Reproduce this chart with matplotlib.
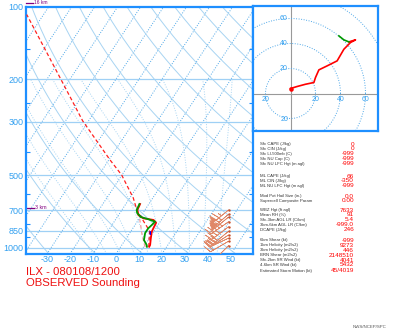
import numpy as np
import matplotlib.pyplot as plt
from matplotlib.ticker import NullFormatter

plt.rcParams['font.family'] = ['Liberation Sans', 'DejaVu Sans']

P_BOT = 1060.0
P_TOP = 100.0
SKEW = 30.0

# observed sounding, pressure (hPa) and temperature / dewpoint (C)
temp_pres = [989, 973, 913, 857, 817, 786, 766, 754, 731, 696, 671, 658]
temp_c = [12.4, 12.3, 10.7, 9.2, 8.8, 8.5, 6.6, 1.7, -1.4, -3.3, -3.6, -3.8]
dwpt_pres = [989, 973, 928, 868, 830, 804, 779, 761, 745, 717, 696, 671, 658]
dwpt_c = [11.4, 10.8, 8.2, 6.7, 6.7, 7.3, 7.8, 4.2, 0.3, -2.5, -3.6, -3.9, -4.1]

# surface parcel trace
parcel_pres = [989, 850, 703, 621, 499, 432, 298, 200, 108]
parcel_c = [12.2, 8.0, -3.1, -8.5, -20.1, -29.5, -52.5, -74.0, -107.3]

# virtual temp / wetbulb bits near the ground
vtemp_pres = [992, 884, 827, 731, 664]
vtemp_c = [10.7, 5.9, 3.5, -1.1, -5.3]
wb_pres = [878, 858]
wb_c = [9.3, 8.6]

# wind barbs (kt)
wind_pres = [978, 938, 911, 884, 853, 817, 779, 745, 725, 696]
wind_u = [6, 12, 19, 20, 23, 29, 37, 43, 48, 52]
wind_v = [6, 7, 9, 13, 19, 22, 26, 35, 41, 43]

# hodograph (kt)
hodo_u = [0, 5.3, 12, 18.7, 20, 22.7, 29.3, 37.3, 42.7, 48, 52, 46.7]
hodo_v = [4, 5.6, 7.4, 8.8, 12.8, 18.9, 22.1, 26.1, 35.4, 40.8, 42.9, 41.3]
hodo_top_u = [46.7, 42.7, 38.7]
hodo_top_v = [41.3, 42.9, 46.1]

pres_labels = [100, 200, 300, 500, 700, 850, 1000]
pres_minor = [150, 250, 400, 600, 800, 900]
temp_ticks = [-30, -20, -10, 0, 10, 20, 30, 40, 50]
hodo_rings = [20, 40, 60, 80]

param_groups = [
    [("Sfc CAPE (J/kg)", "0"), ("Sfc CIN (J/kg)", "0"),
     ("Sfc LI-500mb (C)", "-999"), ("Sfc NU Cap (C)", "-999"),
     ("Sfc NU LFC Hgt (m agl)", "-999")],
    [("ML CAPE (J/kg)", "66"), ("ML CIN (J/kg)", "-350"),
     ("ML NU LFC Hgt (m agl)", "-999")],
    [("Mod Pot Hail Size (in.)", "0.0"), ("Supercell Composite Param", "0.00")],
    [("WBZ Hgt (ft agl)", "7633"), ("Mean RH (%)", "91"),
     ("Sfc-3km AGL LR (C/km)", "5.4"), ("3km-6km AGL LR (C/km)", "-999.0"),
     ("DCAPE (J/kg)", "246")],
    [("6km Shear (kt)", "-999"), ("1km Helicity (m2/s2)", "9273"),
     ("3km Helicity (m2/s2)", "446"), ("BRN Shear (m2/s2)", "2148510"),
     ("Sfc-2km SR Wind (kt)", "4041"), ("4-6km SR Wind (kt)", "5432")],
    [("Estimated Storm Motion (kt)", "45/4019")],
]

BLUE = '#1e8fff'
GRID_DARK = '#4fa8e8'
GRID_LIGHT = '#a8d4f2'
W, H = 400, 329


def fx(px):
    return px / W


def fy(py):
    return 1 - py / H


def skew(t, p):
    return np.asarray(t, float) + SKEW * np.log(P_BOT / np.asarray(p, float))


def moist_adiabat(t0, pres):
    # simple step integration of the saturated lapse rate
    out = [t0]
    for p0, p1 in zip(pres[:-1], pres[1:]):
        tk = out[-1] + 273.15
        es = 6.112 * np.exp(17.67 * out[-1] / (out[-1] + 243.5))
        rs = 0.622 * es / (p0 - es)
        num = 287.0 * tk + 2.5e6 * rs
        den = 1004.0 + 2.5e6 ** 2 * rs * 0.622 / (287.0 * tk * tk)
        out.append(out[-1] + num / den / p0 * (p1 - p0))
    return np.array(out)


fig = plt.figure(figsize=(4, 3.29), dpi=100)
ax = fig.add_axes([fx(26), fy(254), fx(227), 247.5 / H])
ax.set_yscale('log')
ax.set_ylim(P_BOT, P_TOP)
ax.set_xlim(-39.1, 59.6)

# background: isotherms, dry and moist adiabats, isobars
p_grid = np.geomspace(P_BOT, P_TOP, 150)
for t0 in range(-120, 70, 10):
    ax.plot(skew(np.full_like(p_grid, t0), p_grid), p_grid,
            ls=(0, (1, 1.6)), color=GRID_DARK, lw=0.7, zorder=1)
for th in range(240, 500, 20):
    t = th * (p_grid / 1000.0) ** 0.286 - 273.15
    ax.plot(skew(t, p_grid), p_grid, color=GRID_LIGHT, lw=0.7, zorder=1)
p_moist = np.geomspace(P_BOT, 200, 100)
for t0 in range(-10, 45, 6):
    ax.plot(skew(moist_adiabat(t0, p_moist), p_moist), p_moist,
            ls=(0, (1, 1.6)), color=GRID_LIGHT, lw=0.7, zorder=1)
for p in pres_labels[1:]:
    ax.axhline(p, color='#9fd0f5', lw=0.9, zorder=1)

# sounding lines
ax.plot(skew(parcel_c, parcel_pres), parcel_pres, color='#ff2020',
        lw=0.9, ls=(0, (3, 2)), zorder=3)
ax.plot(skew(vtemp_c, vtemp_pres), vtemp_pres, color='#f4a0a0',
        lw=0.9, ls=(0, (3, 2)), zorder=3)
ax.plot(skew(temp_c, temp_pres), temp_pres, color='#ff0000', lw=1.3, zorder=4)
ax.plot(skew(dwpt_c, dwpt_pres), dwpt_pres, color='#009900', lw=1.3, zorder=4)
ax.plot(skew(wb_c, wb_pres), wb_pres, color='#0000ff', lw=1.0, zorder=4)

# wind barbs along the right side
bx = np.full(len(wind_pres), 49.0)
ax.barbs(bx, wind_pres, wind_u, wind_v, length=5.5, color='#e08868',
         linewidth=0.5, sizes=dict(emptybarb=0, spacing=0.16, height=0.35),
         zorder=5)
ax.scatter(bx, wind_pres, s=3, color='#c8502a', zorder=6, linewidths=0)

# 3 km marker
ax.plot([-38.5, -35.5], [683, 683], color='#800080', lw=0.9, clip_on=False)
ax.text(-35, 683, "3 km", color='#800080', fontsize=3.8, va='center')

ax.set_yticks(pres_labels)
ax.set_yticklabels([str(p) for p in pres_labels])
ax.set_yticks(pres_minor, minor=True)
ax.yaxis.set_minor_formatter(NullFormatter())
ax.tick_params(axis='y', which='major', length=0, pad=2, labelsize=6.5,
               labelcolor='#33a0f0')
ax.tick_params(axis='y', which='minor', length=3, direction='in',
               color=BLUE, left=True, right=True, width=0.8)
ax.set_xticks(temp_ticks)
ax.set_xticklabels([str(t) for t in temp_ticks])
ax.tick_params(axis='x', length=0, pad=1, labelsize=6.5, labelcolor='#33a0f0')
for s in ax.spines.values():
    s.set_color(BLUE)
    s.set_linewidth(1.6)

# hodograph inset
axh = fig.add_axes([fx(253), fy(131), fx(125), 125 / H])
axh.set_xlim(-30, 70)
axh.set_ylim(-30, 70)
axh.set_xticks([])
axh.set_yticks([])
for s in axh.spines.values():
    s.set_color(BLUE)
    s.set_linewidth(1.6)
axh.axhline(0, color='#999999', lw=0.8)
axh.axvline(0, color='#999999', lw=0.8)
ang = np.linspace(0, 2 * np.pi, 300)
for r in hodo_rings:
    axh.plot(r * np.cos(ang), r * np.sin(ang), ls=(0, (1, 1.6)),
             color=GRID_DARK, lw=0.7)
for r in hodo_rings[:3]:
    axh.text(r, -5, str(r), color='#33a0f0', fontsize=5, ha='center', va='center')
    axh.text(-5.5, r, str(r), color='#33a0f0', fontsize=5, ha='center', va='center')
axh.text(-20, -5, "20", color='#33a0f0', fontsize=5, ha='center', va='center')
axh.text(-5, -21, "20", color='#33a0f0', fontsize=5, ha='center', va='center')
axh.plot(hodo_u, hodo_v, color='#ff0000', lw=1.2)
axh.plot(hodo_top_u, hodo_top_v, color='#009900', lw=1.2)
axh.scatter(hodo_u[:1], hodo_v[:1], s=5, color='#ff0000', zorder=5)

# parameter listing
group_top = [144, 176, 196, 210, 240.5, 271]
row_step = 4.9
for top, rows in zip(group_top, param_groups):
    for i, (label, value) in enumerate(rows):
        y = fy(top + i * row_step)
        fig.text(fx(260), y, label, fontsize=3.1, color='#333333', va='center')
        fig.text(fx(354), y, value, fontsize=4.6, color='#ff0000',
                 va='center', ha='right')

fig.text(fx(26), fy(271.7), "ILX - 080108/1200", color='#ee1111',
         fontsize=8.2, va='center')
fig.text(fx(26), fy(282.7), "OBSERVED Sounding", color='#ee1111',
         fontsize=8.2, va='center')
fig.text(fx(353), fy(327), "NWS/NCEP/SPC", color='#555555', fontsize=3.2,
         va='center')
fig.text(fx(34), fy(2.6), "16 km", color='#800080', fontsize=3.5, va='center')
fig.add_artist(plt.Line2D([fx(26), fx(33)], [fy(2.6), fy(2.6)],
                          color='#800080', lw=0.9))

fig.savefig('out.png', dpi=100)
